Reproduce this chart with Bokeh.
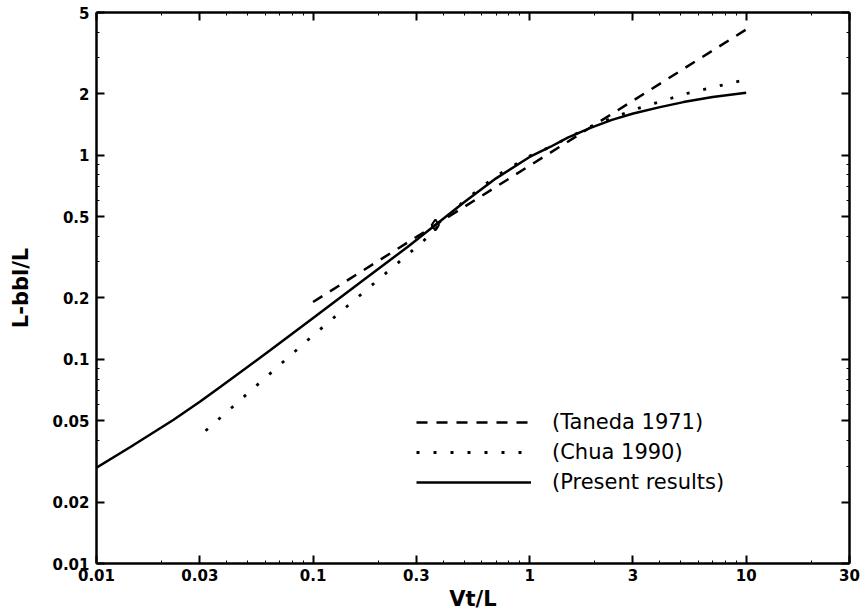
from bokeh.plotting import figure
from bokeh.models import (Range1d, LogAxis, FixedTicker, CustomJSTickFormatter,
                          Legend, LegendItem)
from bokeh.embed import file_html
from bokeh.resources import INLINE

# ---- data ----
taneda_x = [0.1, 10.0]
taneda_y = [0.191, 4.13]

chua_x = [0.0319, 0.1, 0.32, 0.5, 0.7, 1.0, 1.25, 1.9, 3.08, 5.35, 9.2, 10.0]
chua_y = [0.0447, 0.131, 0.376, 0.60, 0.79, 0.99, 1.10, 1.38, 1.68, 2.01, 2.30, 2.33]

present_x = [0.01, 0.0144, 0.0227, 0.03, 0.0374, 0.0636, 0.0973, 0.171, 0.273,
             0.367, 0.5, 0.7, 1.0, 1.25, 1.5, 1.91, 2.4, 3.01, 4.0, 5.13, 7.0, 10.0]
present_y = [0.0295, 0.0373, 0.0506, 0.062, 0.0734, 0.111, 0.156, 0.245, 0.355,
             0.455, 0.59, 0.77, 0.98, 1.10, 1.22, 1.36, 1.49, 1.60, 1.72, 1.82,
             1.93, 2.02]

marker_x = [0.367]
marker_y = [0.455]

x_ticks = [0.01, 0.03, 0.1, 0.3, 1, 3, 10, 30]
y_ticks = [0.01, 0.02, 0.05, 0.1, 0.2, 0.5, 1, 2, 5]
x_minor = [m * d for d in [0.01, 0.1, 1, 10] for m in range(2, 10) if m * d < 30]
y_minor = [m * d for d in [0.01, 0.1, 1] for m in range(2, 10) if m * d < 5]

labels = ["(Taneda 1971)", "(Chua 1990)", "(Present results)"]

FONT = "DejaVu Sans"

p = figure(width=868, height=613, x_axis_type="log", y_axis_type="log",
           x_range=Range1d(0.01, 30), y_range=Range1d(0.01, 5),
           output_backend="svg", toolbar_location=None,
           min_border_left=96, min_border_right=19, min_border_top=12,
           min_border_bottom=49)
p.background_fill_color = "white"
p.border_fill_color = "white"
p.outline_line_color = None
p.xgrid.visible = False
p.ygrid.visible = False

fmt = CustomJSTickFormatter(code="return tick.toString();")


def style_axis(ax, ticks, minor):
    ax.ticker = FixedTicker(ticks=ticks, minor_ticks=minor)
    ax.formatter = fmt
    ax.axis_line_color = "black"
    ax.axis_line_width = 2.5
    ax.major_tick_line_color = "black"
    ax.major_tick_line_width = 2
    ax.major_tick_in = 8
    ax.major_tick_out = 0
    ax.minor_tick_line_color = "black"
    ax.minor_tick_line_width = 1
    ax.minor_tick_in = 3
    ax.minor_tick_out = 0
    ax.major_label_text_font = FONT
    ax.major_label_text_font_style = "bold"
    ax.major_label_text_font_size = "15px"
    ax.major_label_text_color = "black"


def mirror(ticks, length, width, with_line):
    # no major ticks -> no labels; tick positions are drawn as "minor" ticks
    ax = LogAxis(ticker=FixedTicker(ticks=[], minor_ticks=ticks))
    ax.axis_line_color = "black" if with_line else None
    ax.axis_line_width = 2.5
    ax.major_tick_line_color = None
    ax.minor_tick_line_color = "black"
    ax.minor_tick_line_width = width
    ax.minor_tick_in = length
    ax.minor_tick_out = 0
    ax.major_label_standoff = 0
    return ax


xa = p.xaxis[0]
ya = p.yaxis[0]
style_axis(xa, x_ticks, x_minor)
style_axis(ya, y_ticks, y_minor)
xa.major_label_standoff = 5
ya.major_label_standoff = 7
xa.axis_label = "Vt/L"
ya.axis_label = "L-bbl/L"
for ax in (xa, ya):
    ax.axis_label_text_font = FONT
    ax.axis_label_text_font_style = "bold"
    ax.axis_label_text_font_size = "21px"
    ax.axis_label_text_color = "black"
xa.axis_label_standoff = 3
ya.axis_label_standoff = 16

p.add_layout(mirror(x_ticks, 8, 2, True), "above")
p.add_layout(mirror(x_minor, 3, 1, False), "above")
p.add_layout(mirror(y_ticks, 8, 2, True), "right")
p.add_layout(mirror(y_minor, 3, 1, False), "right")

r_t = p.line(taneda_x, taneda_y, line_color="black", line_width=2.5,
             line_dash="11 9")
r_c = p.line(chua_x, chua_y, line_color="black", line_width=2.8,
             line_dash="3 14")
r_p = p.line(present_x, present_y, line_color="black", line_width=2.5)
p.scatter(marker_x, marker_y, marker="diamond", size=11, line_color="black",
          line_width=2, fill_color=None)

legend = Legend(items=[LegendItem(label=labels[0], renderers=[r_t]),
                       LegendItem(label=labels[1], renderers=[r_c]),
                       LegendItem(label=labels[2], renderers=[r_p])],
                location=(320, 66))
legend.border_line_color = None
legend.background_fill_alpha = 0
legend.padding = 0
legend.margin = 0
legend.spacing = 0
legend.glyph_width = 115
legend.glyph_height = 30
legend.label_height = 30
legend.label_standoff = 21
legend.label_text_font = FONT
legend.label_text_font_size = "21px"
legend.label_text_color = "black"
p.add_layout(legend, "center")

open("out.html", "w").write(file_html(p, INLINE))
